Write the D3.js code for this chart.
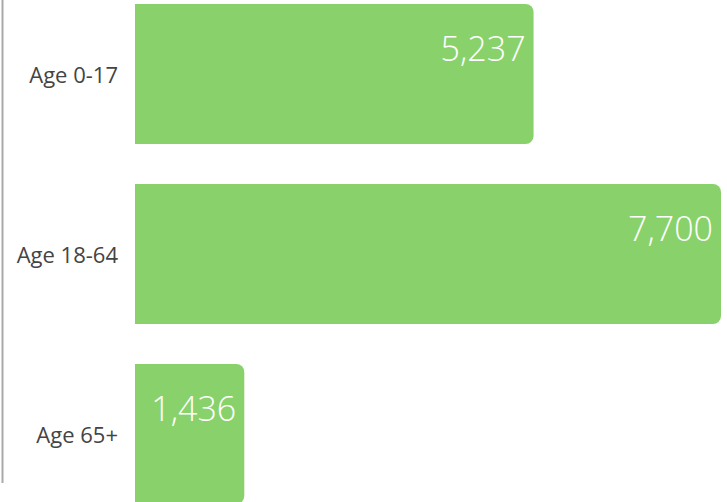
<html>
    <head>
        <title>age-bars</title>
        <script src="https://d3js.org/d3.v7.min.js"></script>
        <style>
            body { margin: 0; background: #fff; }
        </style>
    </head>
    <body>
        <script>
            const categories = ["Age 0-17", "Age 18-64", "Age 65+"];
            const values = [5237, 7700, 1436];

            const w = 727;
            const h = 502;
            const left = 135;
            const r = 8;

            const svg = d3.select("body")
                .append("svg")
                .attr("width", w)
                .attr("height", h);

            const xScale = d3.scaleLinear()
                .domain([0, d3.max(values)])
                .range([left, 721]);

            const yScale = d3.scaleBand()
                .domain(categories)
                .range([4, 504])
                .paddingInner(40 / 180)
                .paddingOuter(0);

            // bars: square on the left, rounded on the right
            function barPath(x0, x1, y0, hh) {
                const rr = Math.min(r, (x1 - x0) / 2);
                return "M" + x0 + "," + y0 +
                    "H" + (x1 - rr) +
                    "A" + rr + "," + rr + " 0 0 1 " + x1 + "," + (y0 + rr) +
                    "V" + (y0 + hh - rr) +
                    "A" + rr + "," + rr + " 0 0 1 " + (x1 - rr) + "," + (y0 + hh) +
                    "H" + x0 + "Z";
            }

            svg.selectAll("path.bar")
                .data(values)
                .enter()
                .append("path")
                .attr("class", "bar")
                .attr("d", (d, i) => barPath(xScale(0), xScale(d), yScale(categories[i]), yScale.bandwidth()))
                .attr("fill", "#89d26b");

            svg.selectAll("text.value")
                .data(values)
                .enter()
                .append("text")
                .attr("class", "value")
                .attr("x", d => xScale(d) - 8)
                .attr("y", (d, i) => yScale(categories[i]) + 57)
                .attr("text-anchor", "end")
                .attr("fill", "#fff")
                .style("font-family", "'Open Sans', sans-serif")
                .style("font-weight", 300)
                .style("font-size", "34px")
                .text(d => d3.format(",")(d));

            const yAxis = d3.axisLeft(yScale).tickSize(0).tickPadding(17);

            const gy = svg.append("g")
                .attr("transform", "translate(" + left + ",0)")
                .call(yAxis);
            gy.select(".domain").remove();
            gy.selectAll("text")
                .attr("fill", "#444")
                .attr("dy", "0.4em")
                .style("font-family", "'Open Sans', sans-serif")
                .style("font-size", "22px");

            // left rule
            svg.append("line")
                .attr("x1", 2.5).attr("x2", 2.5)
                .attr("y1", 0).attr("y2", 483)
                .attr("stroke", "#aaa")
                .attr("stroke-width", 2);
        </script>
    </body>
</html>
